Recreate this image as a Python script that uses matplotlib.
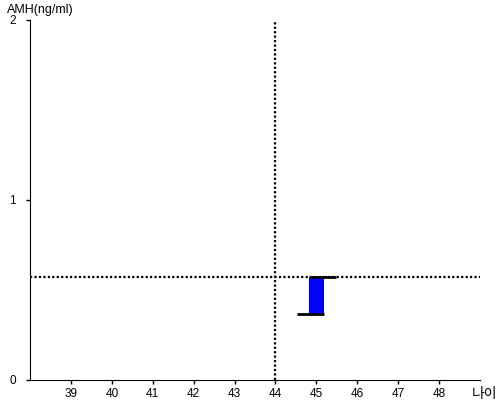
import matplotlib
matplotlib.use('Agg')
import matplotlib.pyplot as plt

# data
age_ticks = [39, 40, 41, 42, 43, 44, 45, 46, 47, 48]
amh_ticks = [0, 1, 2]
current_age = 44
current_amh = 0.574
bar_age = [45]
bar_open = [0.368]
bar_close = [0.574]

plt.rcParams['font.family'] = ['Liberation Sans', 'DejaVu Sans']

fig = plt.figure(figsize=(5, 4), dpi=100)
ax = fig.add_axes([0.06, 0.05, 0.90, 0.90])

# blue box from open to close, with open tick on the left and close tick on the right
bw = 0.38
tk = 0.29
for x, o, c in zip(bar_age, bar_open, bar_close):
    ax.bar(x, c - o, bottom=o, width=bw, color='#0000ff', edgecolor='none', zorder=2)
    ax.plot([x - bw / 2 - tk, x + bw / 2], [o, o], color='black', lw=2, solid_capstyle='butt', zorder=3)
    ax.plot([x - bw / 2, x + bw / 2 + tk], [c, c], color='black', lw=2, solid_capstyle='butt', zorder=3)

# reference lines for current age / amh
ax.axvline(current_age, color='black', lw=1.6, linestyle=(0, (1, 1)), zorder=1)
ax.axhline(current_amh, color='black', lw=1.6, linestyle=(0, (1, 1)), zorder=1)

ax.set_xlim(38, 49)
ax.set_ylim(0, 2)
ax.set_xticks(age_ticks)
ax.set_yticks(amh_ticks)
ax.tick_params(axis='both', direction='out', length=3, width=1, labelsize=8.5, pad=3)
ax.tick_params(axis='y', pad=7)
for s in ['top', 'right']:
    ax.spines[s].set_visible(False)

fig.text(0.014, 0.975, 'AMH(ng/ml)', fontsize=9, va='center', ha='left')
fig.text(0.944, 0.016, '나이', fontsize=10, va='center', ha='left',
         family=['Noto Sans CJK KR', 'DejaVu Sans'])

fig.savefig('out.png', dpi=100)
